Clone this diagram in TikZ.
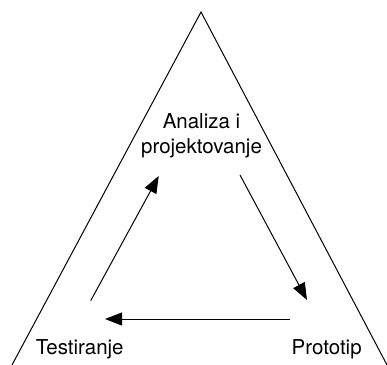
\documentclass[tikz,border=0pt]{standalone}
\usepackage{fontspec}
\setmainfont{TeX Gyre Heros}
\usetikzlibrary{arrows.meta}
\begin{document}
\begin{tikzpicture}[x=1pt,y=-1pt,
  side/.style={line width=1pt,black},
  flow/.style={line width=1pt,black,-{Triangle[length=17pt,width=13pt]}},
  lbl/.style={font=\fontsize{20.5}{25}\selectfont,inner sep=0pt,anchor=base,align=center}]
\useasboundingbox (0,0) rectangle (387,364);
\clip (0,0) rectangle (387,364);
% triangle sides
\coordinate (apex) at (201,12);
\coordinate (bl) at (12,365);
\coordinate (br) at (387,365);
\draw[side,line join=miter] (bl) -- (apex) -- (br);
% labels
\node[lbl] (A) at (201.5,153) {Analiza i\\projektovanje};
\node[lbl] (T) at (79.7,354) {Testiranje};
\node[lbl] (P) at (326.7,354) {Prototip};
% arrow end points
\coordinate (a1) at (240,175);
\coordinate (a2) at (307,300);
\coordinate (b1) at (290,319);
\coordinate (b2) at (105,319);
\coordinate (c1) at (90.7,300.7);
\coordinate (c2) at (158.7,176);
\draw[flow] (a1) -- (a2);
\draw[flow] (b1) -- (b2);
\draw[flow] (c1) -- (c2);
\end{tikzpicture}
\end{document}
